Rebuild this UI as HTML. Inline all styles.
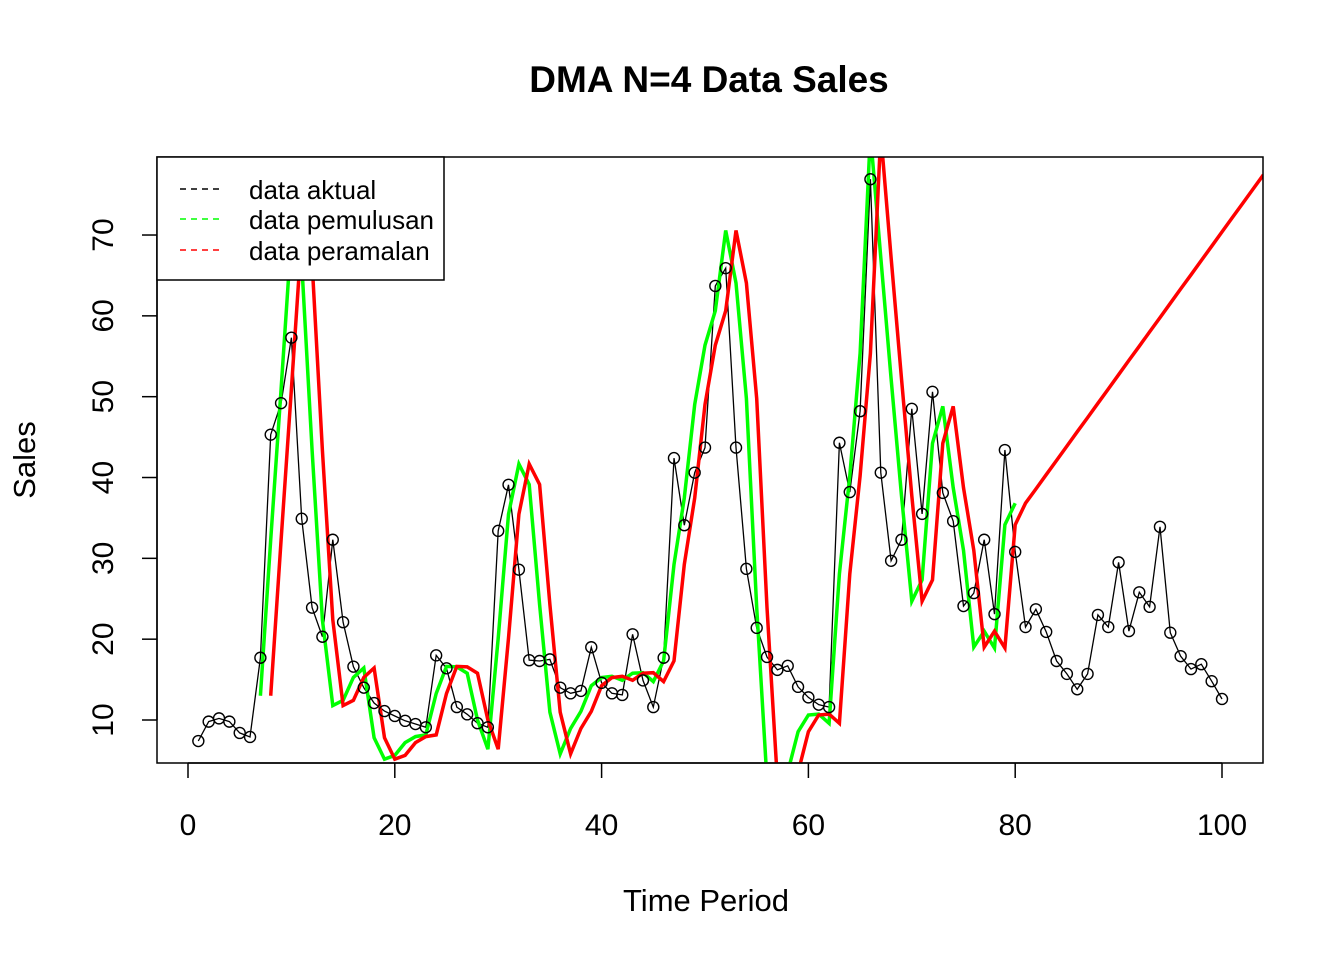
<!DOCTYPE html>
<html><head><meta charset="utf-8"><style>
body{margin:0;background:#fff;}
svg{display:block;font-family:"Liberation Sans",Arial,sans-serif;}
</style></head><body>
<svg id="chart" width="1344" height="960">
<defs><clipPath id="clip"><rect x="157" y="157" width="1106" height="606"/></clipPath></defs>
<rect width="1344" height="960" fill="#fff"/>
<text x="709" y="92" text-anchor="middle" font-size="37" font-weight="bold">DMA N=4 Data Sales</text>
<text x="706" y="911" text-anchor="middle" font-size="31">Time Period</text>
<text transform="translate(35,460) rotate(-90)" text-anchor="middle" font-size="31">Sales</text>
<g id="axes"></g>
<g id="series" clip-path="url(#clip)"></g>
<g id="points"></g>
<rect x="157" y="157" width="1106" height="606" fill="none" stroke="#000" stroke-width="1.5"/>
<g>
<rect x="157" y="157" width="287" height="123" fill="#fff" stroke="#000" stroke-width="1.5"/>
<g><line x1="180" y1="189" x2="224" y2="189" stroke="#000" stroke-width="1.5" stroke-dasharray="6,5"/><text x="249" y="199" font-size="26">data aktual</text></g>
<g><line x1="180" y1="219" x2="224" y2="219" stroke="#00ff00" stroke-width="1.5" stroke-dasharray="6,5"/><text x="249" y="229" font-size="26">data pemulusan</text></g>
<g><line x1="180" y1="250" x2="224" y2="250" stroke="#ff0000" stroke-width="1.5" stroke-dasharray="6,5"/><text x="249" y="260" font-size="26">data peramalan</text></g>
</g>
</svg>
<script>
const sales=[7.4,9.8,10.2,9.8,8.4,7.9,17.7,45.3,49.2,57.3,34.9,23.9,20.3,32.3,22.1,16.6,14,12.1,11.1,10.5,9.9,9.5,9.1,18,16.4,11.6,10.7,9.6,9.1,33.4,39.1,28.6,17.4,17.3,17.5,14,13.3,13.6,19,14.6,13.3,13.1,20.6,14.9,11.6,17.7,42.4,34.1,40.6,43.7,63.7,65.9,43.7,28.7,21.4,17.8,16.2,16.7,14.1,12.8,11.9,11.6,44.3,38.2,48.2,76.9,40.6,29.7,32.3,48.5,35.5,50.6,38.1,34.6,24.1,25.7,32.3,23.1,43.4,30.8,21.5,23.7,20.9,17.3,15.7,13.8,15.7,23,21.5,29.5,21,25.8,24,33.9,20.8,17.9,16.3,16.9,14.8,12.6];
const trainN=80, N=4, horizon=104;
const xTicks=[0,20,40,60,80,100];
const yTicks=[10,20,30,40,50,60,70];
const X=v=>188+v*10.34, Y=v=>720-(v-10)*8.083;
const NS="http://www.w3.org/2000/svg";
function mk(tag,attrs,parent){const e=document.createElementNS(NS,tag);for(const k in attrs)e.setAttribute(k,attrs[k]);parent.appendChild(e);return e;}
const axes=document.getElementById('axes'),series=document.getElementById('series'),pts=document.getElementById('points');
mk('line',{x1:X(xTicks[0]),x2:X(xTicks[xTicks.length-1]),y1:763,y2:763,stroke:'#000','stroke-width':1.5},axes);
xTicks.forEach(t=>{const g=mk('g',{},axes);


mk('line',{x1:X(t),x2:X(t),y1:763,y2:778,stroke:'#000','stroke-width':1.5},g);
const tx=mk('text',{x:X(t),y:835,'text-anchor':'middle','font-size':30},g);tx.textContent=t;});
mk('line',{x1:157,x2:157,y1:Y(yTicks[0]),y2:Y(yTicks[yTicks.length-1]),stroke:'#000','stroke-width':1.5},axes);
yTicks.forEach(t=>{const g=mk('g',{},axes);


mk('line',{x1:142,x2:157,y1:Y(t),y2:Y(t),stroke:'#000','stroke-width':1.5},g);
const tx=mk('text',{transform:`translate(113,${Y(t)}) rotate(-90)`,'text-anchor':'middle','font-size':30},g);tx.textContent=t;});
const s1=[],s2=[],a=[],b=[];
for(let i=0;i<trainN;i++){
  s1[i]=i>=N-1?(sales[i]+sales[i-1]+sales[i-2]+sales[i-3])/4:null;
  s2[i]=i>=2*N-2?(s1[i]+s1[i-1]+s1[i-2]+s1[i-3])/4:null;
  if(s2[i]!=null){a[i]=2*s1[i]-s2[i];b[i]=2/(N-1)*(s1[i]-s2[i]);}
}
const smooth=[],fc=[];
for(let i=2*N-2;i<trainN;i++){smooth.push([i+1,a[i]+b[i]]);fc.push([i+2,a[i]+b[i]]);}
const L=trainN-1;
for(let t=trainN+2;t<=horizon;t++)fc.push([t,a[L]+b[L]*(t-trainN)]);
const path=arr=>arr.map((p,i)=>(i?'L':'M')+X(p[0]).toFixed(1)+','+Y(p[1]).toFixed(1)).join('');
const act=mk('path',{d:path(sales.map((v,i)=>[i+1,v])),fill:'none',stroke:'#000','stroke-width':1.3},series);


const gl=mk('path',{d:path(smooth),fill:'none',stroke:'#00ff00','stroke-width':3.5},series);


const rl=mk('path',{d:path(fc),fill:'none',stroke:'#ff0000','stroke-width':3.5},series);


sales.forEach((v,i)=>{const c=mk('circle',{cx:X(i+1),cy:Y(v),r:5.5,fill:'none',stroke:'#000','stroke-width':1.4},pts);

});
</script>
</body></html>
